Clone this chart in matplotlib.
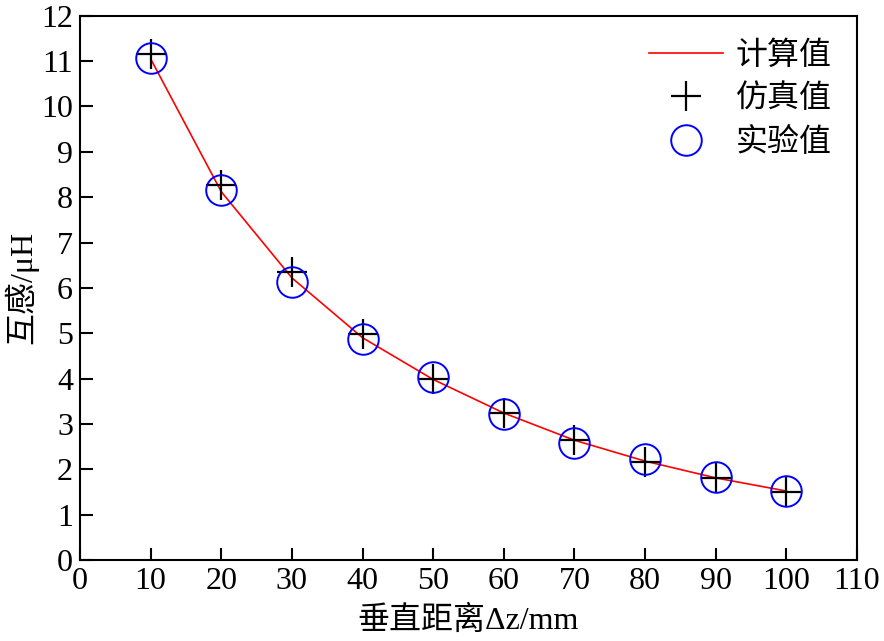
import matplotlib
matplotlib.use("Agg")
import matplotlib.pyplot as plt

plt.rcParams['font.family'] = ['Liberation Serif', 'Noto Sans CJK SC']

# distance values (mm)
distance = [10, 20, 30, 40, 50, 60, 70, 80, 90, 100]
# mutual inductance (uH)
calc_values = [11.05, 8.12, 6.22, 4.9, 3.98, 3.24, 2.64, 2.18, 1.81, 1.52]
sim_values = [11.15, 8.27, 6.35, 4.99, 3.98, 3.23, 2.64, 2.16, 1.81, 1.50]
exp_values = [11.06, 8.15, 6.12, 4.87, 4.03, 3.22, 2.58, 2.22, 1.82, 1.53]

fig = plt.figure(figsize=(8.84, 6.41), dpi=100)
ax = fig.add_axes([0.0905, 0.1264, 0.879, 0.849])

ax.plot(distance, calc_values, color='red', lw=1.2, label='计算值')
ax.plot(distance, sim_values, ls='none', marker='+', color='black',
        markersize=22, markeredgewidth=1.6, label='仿真值')
ax.plot(distance, exp_values, ls='none', marker='o', markerfacecolor='none',
        markeredgecolor='blue', markersize=22, markeredgewidth=1.4, label='实验值')

ax.set_xlim(0, 110)
ax.set_ylim(0, 12)
ax.set_xticks(range(0, 111, 10))
ax.set_yticks(range(0, 13))
ax.tick_params(direction='in', length=9, width=1.5, labelsize=23,
               top=False, right=False, pad=5)
for s in ax.spines.values():
    s.set_linewidth(1.5)

ax.set_xlabel('垂直距离Δz/mm', fontsize=23, labelpad=7)
ax.set_ylabel('互感/μH', fontsize=23, labelpad=2)

leg = ax.legend(loc='upper right', frameon=False, fontsize=23, handlelength=2.3,
                borderaxespad=0.4, labelspacing=0.42, handletextpad=0.4)

fig.savefig('out.png', dpi=100)
